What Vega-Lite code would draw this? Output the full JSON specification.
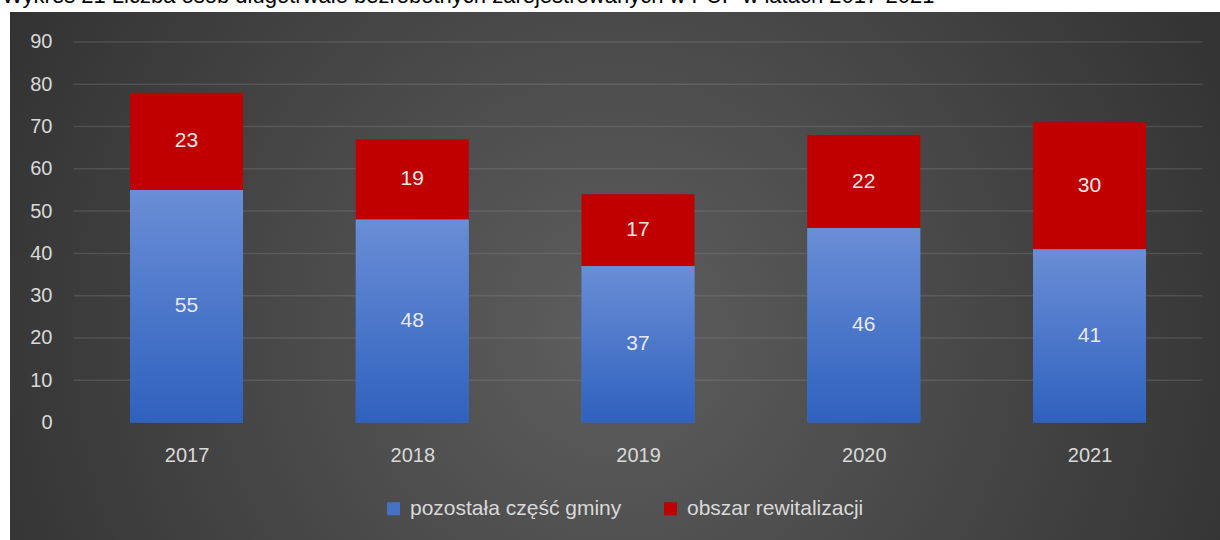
{
  "$schema": "https://vega.github.io/schema/vega-lite/v6.json",
  "width": 1210,
  "height": 528,
  "autosize": {"type": "none"},
  "padding": {"left": 10, "top": 12, "right": 0, "bottom": 0},
  "background": "white",
  "view": {
    "fill": {"gradient": "radial", "x1": 0.5, "y1": 0.55, "r1": 0, "x2": 0.5, "y2": 0.55, "r2": 0.75,
      "stops": [{"offset": 0, "color": "#5e5e5e"}, {"offset": 1, "color": "#242424"}]},
    "stroke": null
  },
  "title": {
    "text": "Wykres 21 Liczba osób długotrwale bezrobotnych zarejestrowanych w PUP w latach 2017-2021",
    "anchor": "start", "frame": "group", "dx": -8, "dy": 20, "offset": 7, "baseline": "alphabetic",
    "fontSize": 22, "fontWeight": "normal", "color": "black", "font": "Liberation Sans"
  },
  "config": {"font": "Liberation Sans"},
  "datasets": {
    "bars": [
      {"year": 2017, "series": "pozostała część gminy", "value": 55, "k": 1},
      {"year": 2017, "series": "obszar rewitalizacji", "value": 23, "k": 2},
      {"year": 2018, "series": "pozostała część gminy", "value": 48, "k": 1},
      {"year": 2018, "series": "obszar rewitalizacji", "value": 19, "k": 2},
      {"year": 2019, "series": "pozostała część gminy", "value": 37, "k": 1},
      {"year": 2019, "series": "obszar rewitalizacji", "value": 17, "k": 2},
      {"year": 2020, "series": "pozostała część gminy", "value": 46, "k": 1},
      {"year": 2020, "series": "obszar rewitalizacji", "value": 22, "k": 2},
      {"year": 2021, "series": "pozostała część gminy", "value": 41, "k": 1},
      {"year": 2021, "series": "obszar rewitalizacji", "value": 30, "k": 2}
    ],
    "grid": [{"v": 10}, {"v": 20}, {"v": 30}, {"v": 40}, {"v": 50}, {"v": 60}, {"v": 70}, {"v": 80}, {"v": 90}]
  },
  "layer": [
    {
      "data": {"name": "grid"},
      "mark": {"type": "rule", "stroke": "#a0a0a0", "strokeOpacity": 0.22, "strokeWidth": 1.5},
      "encoding": {
        "y": {"field": "v", "type": "quantitative", "scale": {"domain": [-27.79, 97.09], "nice": false, "zero": false, "padding": 0},
          "axis": {"values": [0, 10, 20, 30, 40, 50, 60, 70, 80, 90], "orient": "left", "offset": -42, "labelPadding": 0,
            "labelBaseline": "middle", "ticks": false, "domain": false, "grid": false, "title": null, "labelFontSize": 20,
            "labelColor": "#d9d9d9", "labelFlush": false, "labelBound": false, "labelOverlap": false}},
        "x": {"datum": 2016.5, "type": "quantitative", "scale": {"domain": [2016.218, 2021.578], "nice": false, "zero": false, "padding": 0},
          "axis": {"values": [2017, 2018, 2019, 2020, 2021], "format": "d", "orient": "bottom", "offset": -85, "labelPadding": 0,
            "labelBaseline": "middle", "ticks": false, "domain": false, "grid": false, "title": null, "labelFontSize": 20,
            "labelColor": "#d9d9d9", "labelFlush": false, "labelBound": false, "labelOverlap": false}},
        "x2": {"datum": 2021.5}
      }
    },
    {
      "data": {"name": "bars"},
      "mark": {"type": "bar", "width": 113},
      "encoding": {
        "x": {"field": "year", "type": "quantitative",
          "axis": {"values": [2017, 2018, 2019, 2020, 2021], "format": "d", "orient": "bottom", "offset": -85, "labelPadding": 0,
            "labelBaseline": "middle", "ticks": false, "domain": false, "grid": false, "title": null, "labelFontSize": 20,
            "labelColor": "#d9d9d9", "labelFlush": false, "labelBound": false, "labelOverlap": false}},
        "y": {"field": "value", "type": "quantitative", "stack": "zero",
          "axis": {"values": [0, 10, 20, 30, 40, 50, 60, 70, 80, 90], "orient": "left", "offset": -42, "labelPadding": 0,
            "labelBaseline": "middle", "ticks": false, "domain": false, "grid": false, "title": null, "labelFontSize": 20,
            "labelColor": "#d9d9d9", "labelFlush": false, "labelBound": false, "labelOverlap": false}},
        "color": {"field": "series", "type": "nominal",
          "scale": {"domain": ["pozostała część gminy", "obszar rewitalizacji"], "range": ["#4472c4", "#c00000"]},
          "legend": {"orient": "none", "legendX": 373, "legendY": 486, "direction": "horizontal", "title": null,
            "labelFontSize": 21, "labelColor": "#d9d9d9", "labelLimit": 400, "symbolType": "square", "symbolSize": 169,
            "symbolStrokeWidth": 0, "symbolOpacity": 1, "labelOffset": 6, "columnPadding": 38}},
        "order": {"field": "k", "type": "quantitative"}
      }
    },
    {
      "data": {"name": "bars"},
      "transform": [{"filter": "datum.k == 1"}],
      "mark": {"type": "bar", "width": 113,
        "color": {"gradient": "linear", "x1": 0, "y1": 0, "x2": 0, "y2": 1,
          "stops": [{"offset": 0, "color": "#6a8ed6"}, {"offset": 1, "color": "#2f61be"}]}},
      "encoding": {
        "x": {"field": "year", "type": "quantitative",
          "axis": {"values": [2017, 2018, 2019, 2020, 2021], "format": "d", "orient": "bottom", "offset": -85, "labelPadding": 0,
            "labelBaseline": "middle", "ticks": false, "domain": false, "grid": false, "title": null, "labelFontSize": 20,
            "labelColor": "#d9d9d9", "labelFlush": false, "labelBound": false, "labelOverlap": false}},
        "y": {"field": "value", "type": "quantitative",
          "axis": {"values": [0, 10, 20, 30, 40, 50, 60, 70, 80, 90], "orient": "left", "offset": -42, "labelPadding": 0,
            "labelBaseline": "middle", "ticks": false, "domain": false, "grid": false, "title": null, "labelFontSize": 20,
            "labelColor": "#d9d9d9", "labelFlush": false, "labelBound": false, "labelOverlap": false}}
      }
    },
    {
      "data": {"name": "bars"},
      "mark": {"type": "text", "fontSize": 21, "color": "#e8e8e8", "baseline": "middle"},
      "encoding": {
        "x": {"field": "year", "type": "quantitative",
          "axis": {"values": [2017, 2018, 2019, 2020, 2021], "format": "d", "orient": "bottom", "offset": -85, "labelPadding": 0,
            "labelBaseline": "middle", "ticks": false, "domain": false, "grid": false, "title": null, "labelFontSize": 20,
            "labelColor": "#d9d9d9", "labelFlush": false, "labelBound": false, "labelOverlap": false}},
        "y": {"field": "value", "type": "quantitative", "stack": "zero", "bandPosition": 0.5,
          "axis": {"values": [0, 10, 20, 30, 40, 50, 60, 70, 80, 90], "orient": "left", "offset": -42, "labelPadding": 0,
            "labelBaseline": "middle", "ticks": false, "domain": false, "grid": false, "title": null, "labelFontSize": 20,
            "labelColor": "#d9d9d9", "labelFlush": false, "labelBound": false, "labelOverlap": false}},
        "detail": {"field": "series"},
        "order": {"field": "k", "type": "quantitative"},
        "text": {"field": "value", "type": "quantitative"}
      }
    },
    {
      "mark": {"type": "rule", "stroke": "#b0b0b0", "strokeWidth": 2},
      "encoding": {
        "y": {"datum": 0, "type": "quantitative",
          "axis": {"values": [0, 10, 20, 30, 40, 50, 60, 70, 80, 90], "orient": "left", "offset": -42, "labelPadding": 0,
            "labelBaseline": "middle", "ticks": false, "domain": false, "grid": false, "title": null, "labelFontSize": 20,
            "labelColor": "#d9d9d9", "labelFlush": false, "labelBound": false, "labelOverlap": false}},
        "x": {"datum": 2016.5, "type": "quantitative",
          "axis": {"values": [2017, 2018, 2019, 2020, 2021], "format": "d", "orient": "bottom", "offset": -85, "labelPadding": 0,
            "labelBaseline": "middle", "ticks": false, "domain": false, "grid": false, "title": null, "labelFontSize": 20,
            "labelColor": "#d9d9d9", "labelFlush": false, "labelBound": false, "labelOverlap": false}},
        "x2": {"datum": 2021.5}
      }
    }
  ]
}
